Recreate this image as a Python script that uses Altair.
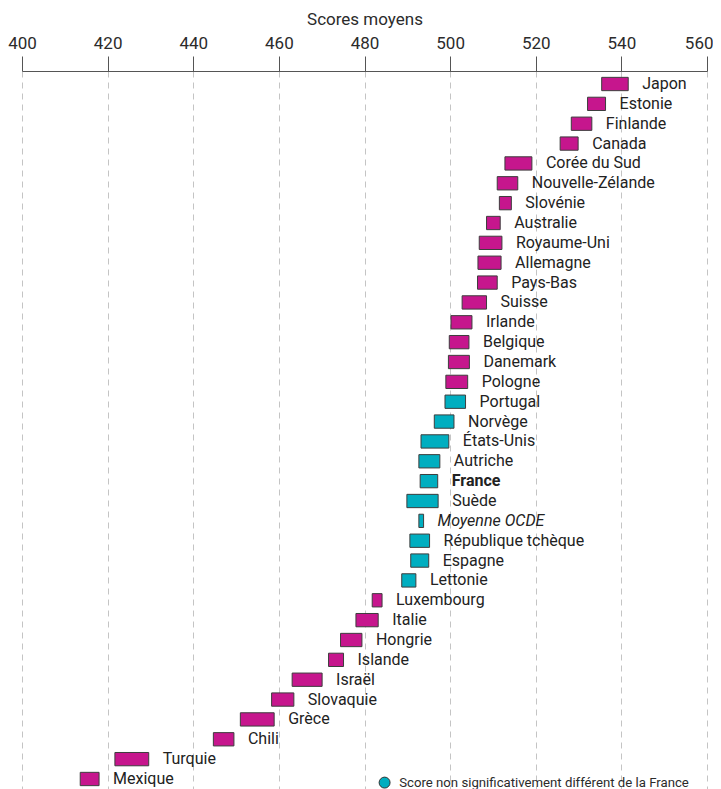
import altair as alt
import pandas as pd

pays = ["Japon", "Estonie", "Finlande", "Canada", "Corée du Sud", "Nouvelle-Zélande",
        "Slovénie", "Australie", "Royaume-Uni", "Allemagne", "Pays-Bas", "Suisse",
        "Irlande", "Belgique", "Danemark", "Pologne", "Portugal", "Norvège",
        "États-Unis", "Autriche", "France", "Suède", "Moyenne OCDE",
        "République tchèque", "Espagne", "Lettonie", "Luxembourg", "Italie",
        "Hongrie", "Islande", "Israël", "Slovaquie", "Grèce", "Chili", "Turquie",
        "Mexique"]
bas = [535.4, 532.1, 528.3, 525.7, 512.8, 511.0, 511.5, 508.5, 506.8, 506.5, 506.4,
       502.8, 500.2, 499.8, 499.6, 499.0, 498.8, 496.3, 493.2, 492.7, 493.0, 489.9,
       492.7, 490.6, 490.8, 488.7, 481.8, 478.0, 474.4, 471.6, 463.1, 458.3, 451.0,
       444.7, 421.7, 413.6]
haut = [541.6, 536.3, 533.1, 529.9, 519.1, 515.8, 514.3, 511.7, 512.1, 511.9, 511.0,
        508.5, 505.1, 504.4, 504.5, 504.1, 503.6, 500.9, 499.7, 497.6, 497.1, 497.2,
        493.8, 495.2, 495.0, 492.0, 484.1, 483.2, 479.4, 475.1, 470.1, 463.5, 458.9,
        449.5, 429.6, 418.0]
non_signif = ["Portugal", "Norvège", "États-Unis", "Autriche", "France", "Suède",
              "Moyenne OCDE", "République tchèque", "Espagne", "Lettonie"]
ticks = [400, 420, 440, 460, 480, 500, 520, 540, 560]

SIG = "Score significativement différent de la France"
NONSIG = "Score non significativement différent de la France"
MAG = "#C6168D"
TEAL = "#00AEC0"
FONT = "Roboto"

groupe = [NONSIG if p in non_signif else SIG for p in pays]
style = ["bold" if p == "France" else ("italic" if p == "Moyenne OCDE" else "normal") for p in pays]

df = pd.DataFrame({"pays": pays, "bas": bas, "haut": haut, "groupe": groupe, "style": style})

base = alt.Chart(df)
xscale = alt.Scale(domain=[400, 560], nice=False, zero=False)
y = alt.Y("pays:N", sort=pays, axis=None,
          scale=alt.Scale(paddingInner=0.33, paddingOuter=0.32))

last = "datum.value == 560"
xaxis = alt.Axis(orient="top", values=ticks, title="Scores moyens", grid=True,
                 gridDash=[6, 5], gridColor="#c4c4c4", gridWidth=1,
                 domainColor="#555555", tickColor="#555555", tickSize=15,
                 labelFont=FONT, labelFontSize=17, labelColor="#2b2b2b",
                 labelPadding=4, labelFlush=False,
                 labelAlign={"condition": {"test": last, "value": "right"}, "value": "center"},
                 labelOffset={"condition": {"test": last, "value": 6}, "value": 0},
                 titleFont=FONT, titleFontSize=17, titleFontWeight="normal",
                 titleColor="#2b2b2b", titlePadding=6)

bars = base.mark_bar(stroke="#3d3d3d", strokeWidth=1).encode(
    x=alt.X("bas:Q", scale=xscale, axis=xaxis),
    x2="haut:Q",
    y=y,
    color=alt.Color("groupe:N",
                    scale=alt.Scale(domain=[SIG, NONSIG], range=[MAG, TEAL]),
                    legend=alt.Legend(values=[NONSIG], orient="none", legendX=356,
                                      legendY=705, title=None, symbolType="circle",
                                      symbolSize=120, symbolStrokeColor="#333333",
                                      symbolStrokeWidth=1, symbolOpacity=1,
                                      labelFont=FONT, labelFontSize=13.2,
                                      labelColor="#2b2b2b", labelLimit=0,
                                      labelOffset=8, padding=0)),
)

def labels(sty, **kw):
    return base.transform_filter(alt.datum.style == sty).mark_text(
        align="left", baseline="middle", dx=14, font=FONT, fontSize=16,
        color="#222222", **kw
    ).encode(
        x=alt.X("haut:Q", scale=xscale, axis=xaxis),
        y=y,
        text="pays:N",
    )

chart = alt.layer(
    bars,
    labels("normal"),
    labels("bold", fontWeight="bold"),
    labels("italic", fontStyle="italic"),
).properties(
    width=685, height=721,
    padding={"left": 14, "top": 63, "right": 6, "bottom": 0},
    autosize="none",
).configure_view(stroke=None)

chart.save("out.html", embed_options={"renderer": "svg", "actions": False})
